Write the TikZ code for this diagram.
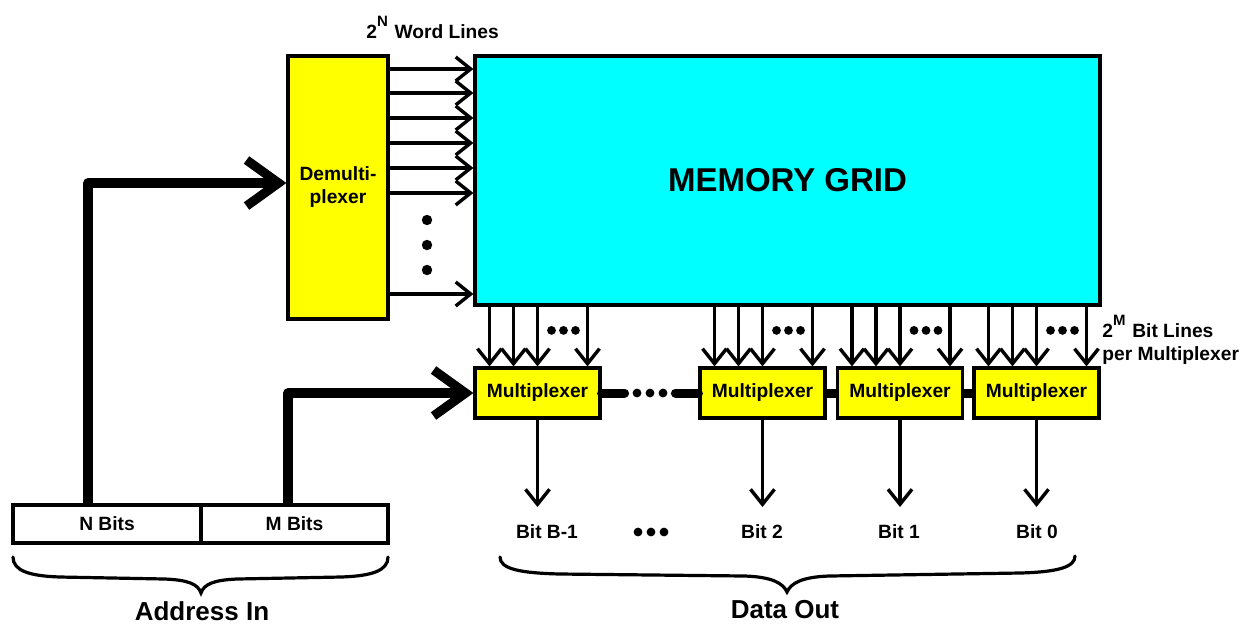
\documentclass[tikz,border=0pt]{standalone}
\usepackage{fontspec}
\setmainfont{Liberation Sans}
\usetikzlibrary{arrows.meta,calc}

\definecolor{muxyellow}{RGB}{255,255,0}
\definecolor{gridcyan}{RGB}{0,255,255}

\tikzset{
  box/.style={draw, line width=1.6pt, inner sep=0pt, align=center},
  lbl/.style={font=\fontsize{9.6}{11}\selectfont\bfseries, inner sep=0pt},
  wire/.style={line width=1.7pt, -{Straight Barb[length=7.5pt,width=12pt]}},
  bigarrow/.style={line width=4.6pt, line join=round, -{Straight Barb[length=16pt,width=23pt]}},
  bus/.style={line width=4.5pt},
  brace/.style={line width=1.6pt, line cap=round},
  dot/.style={fill=black}
}

\newcommand{\supN}[1]{\raisebox{1.1ex}{\fontsize{7.5}{8}\selectfont #1}\hspace{0.35em}}

\begin{document}
\begin{tikzpicture}[x=0.5pt, y=-0.5pt]
  \path[use as bounding box] (0,0) rectangle (1246,623);

  % memory array and row decoder
  \node[box, fill=gridcyan, minimum width=312.5pt, minimum height=124.5pt,
        font=\fontsize{16.5}{19}\selectfont\bfseries] (grid) at (787.5,180.5) {MEMORY GRID};
  \node[box, fill=muxyellow, minimum width=50pt, minimum height=131.5pt,
        font=\fontsize{9.6}{11.5}\selectfont\bfseries] (demux) at (338,187.5) {Demulti-\\plexer};

  % column multiplexers
  \foreach \n/\x in {m1/537.5, m2/762.5, m3/900, m4/1036.5}
    \node[box, fill=muxyellow, minimum width=62.5pt, minimum height=25pt,
          font=\fontsize{9.6}{11}\selectfont\bfseries] (\n) at (\x,393) {Multiplexer};

  % address register
  \node[box, minimum width=94pt, minimum height=19pt, lbl] (nbits) at (107,524) {N Bits};
  \node[box, minimum width=93.5pt, minimum height=19pt, lbl] (mbits) at (294.5,524) {M Bits};

  % word lines
  \foreach \y in {69,93,118,143,168,193,294}
    \draw[wire] (demux.east |- 0,\y) -- (grid.west |- 0,\y);
  \foreach \y in {220,245,270}
    \fill[dot] (427,\y) circle[radius=2.6pt];

  % bit lines into each multiplexer
  \foreach \m in {m1,m2,m3,m4} {
    \foreach \dx in {-48,-24,0,50} {
      \path (\m.north) ++(\dx,0) coordinate (bt);
      \draw[wire] (grid.south -| bt) -- (bt);
    }
    \foreach \dx in {14,26,38}
      \fill[dot] ($(\m.north)+(\dx,-36)$) circle[radius=2.2pt];
  }

  % select line shared by the multiplexers
  \draw[bus, line cap=round] (m1.east) -- ++(23,0);
  \draw[bus, line cap=round] (m2.west) -- ++(-23,0);
  \foreach \x in {637,650,663}
    \fill[dot] (\x,393) circle[radius=2.2pt];
  \draw[bus] (m2.east) -- (m3.west);
  \draw[bus] (m3.east) -- (m4.west);

  % address buses
  \draw[bigarrow] (88,0 |- nbits.north) -- (88,183) -- (demux.west |- 0,183);
  \draw[bigarrow] (288,0 |- mbits.north) -- (288,0 |- m1.west) -- (m1.west);

  % data outputs
  \node[lbl] (b3) at (547,532) {Bit B-1};
  \node[lbl] (b2) at (762,532) {Bit 2};
  \node[lbl] (b1) at (899,532) {Bit 1};
  \node[lbl] (b0) at (1037,532) {Bit 0};
  \foreach \m in {m1,m2,m3,m4}
    \draw[wire] (\m.south) -- (\m.south |- 0,507);
  \foreach \x in {638,651,664}
    \fill[dot] (\x,532) circle[radius=2.2pt];

  % labels
  \node[lbl, anchor=base west] (wl) at (366,38) {2\supN{N}Word Lines};
  \node[lbl, anchor=base west] (bl) at (1102,337) {2\supN{M}Bit Lines};
  \node[lbl, anchor=base west] (pm) at (1102,360) {per Multiplexer};

  % braces
  \draw[brace] (13,557) .. controls (13,571) and (30,576) .. (60,577)
    -- (165,579) .. controls (188,580) and (198,584) .. (201,593)
    .. controls (204,584) and (214,580) .. (237,579)
    -- (341,577) .. controls (371,576) and (388,571) .. (388,557);
  \node[font=\fontsize{13}{15}\selectfont\bfseries, inner sep=0pt] (addr) at (202,611) {Address In};

  \draw[brace] (500,557) .. controls (500,569) and (520,573) .. (560,574)
    -- (745,576) .. controls (772,577) and (783,583) .. (787,592)
    .. controls (791,583) and (802,577) .. (829,576)
    -- (1020,573) .. controls (1058,572) and (1075,567) .. (1075,556);
  \node[font=\fontsize{13}{15}\selectfont\bfseries, inner sep=0pt] (dout) at (785,610) {Data Out};
\end{tikzpicture}
\end{document}
